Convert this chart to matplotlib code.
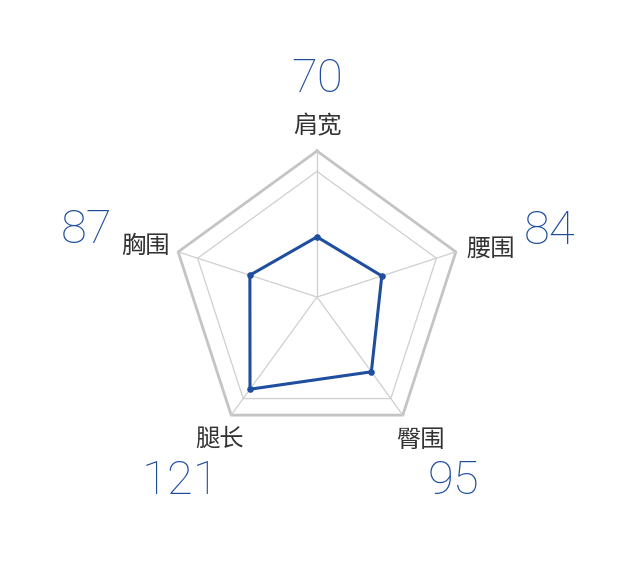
import numpy as np
import matplotlib
matplotlib.use('Agg')
import matplotlib.pyplot as plt

plt.rcParams['font.family'] = ['Noto Sans CJK SC', 'DejaVu Sans']

# radar data
labels = ['肩宽', '腰围', '臀围', '腿长', '胸围']
values = [70, 84, 95, 121, 87]
maxes = [170, 180, 150, 155, 180]

blue = '#1f4e9e'
cx, cy = 317, 297   # centre in pixels
R = 146              # outer radius

fig = plt.figure(figsize=(6.4, 5.86), dpi=100)
ax = fig.add_axes([0, 0, 1, 1])
ax.set_xlim(0, 640)
ax.set_ylim(586, 0)
ax.axis('off')

ang = np.pi / 2 - np.arange(5) * 2 * np.pi / 5

def pts(r):
    r = np.asarray(r) * np.ones(5)
    x = cx + r * np.cos(ang)
    y = cy - r * np.sin(ang)
    return np.append(x, x[0]), np.append(y, y[0])

# grid
x, y = pts(R)
ax.plot(x, y, color='#c4c4c4', lw=2, zorder=1)
x, y = pts(R * 0.86)
ax.plot(x, y, color='#cfcfcf', lw=0.9, zorder=1)
for a in ang:
    ax.plot([cx, cx + R * np.cos(a)], [cy, cy - R * np.sin(a)],
            color='#cfcfcf', lw=0.9, zorder=1)

# series
frac = np.array(values) / np.array(maxes)
x, y = pts(R * frac)
ax.plot(x, y, color=blue, lw=2.2, zorder=3)
ax.scatter(x[:-1], y[:-1], s=14, color=blue, zorder=4)

# labels
lab_pos = [(318, 126, 'center'), (466, 249, 'left'), (420, 440, 'center'),
           (219, 439, 'center'), (145, 246, 'center')]
num_pos = [(317, 79, 'center'), (550, 231, 'center'), (454, 481, 'center'),
           (180, 481, 'center'), (87, 230, 'center')]
for i in range(5):
    lx, ly, ha = lab_pos[i]
    ax.text(lx, ly, labels[i], fontsize=17.5, color='#333333', ha=ha, va='center')
    nx, ny, ha = num_pos[i]
    ax.text(nx, ny, str(values[i]), fontsize=34, color=blue, ha=ha, va='center',
            family='Roboto', fontweight='light')

fig.savefig('out.png', dpi=100)
